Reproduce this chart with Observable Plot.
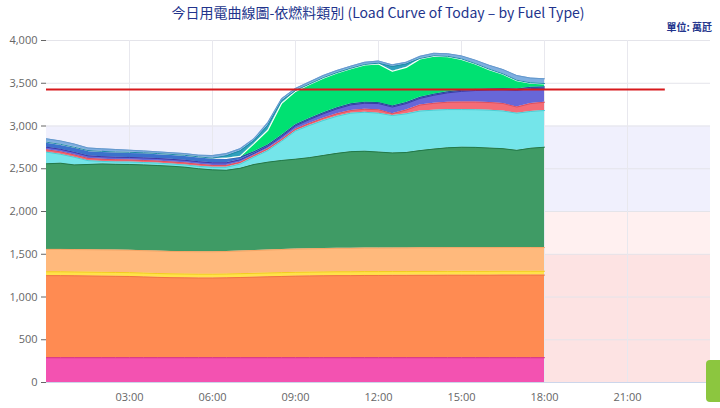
<!DOCTYPE html>
<html>
<head>
<meta charset="utf-8">
<script src="https://cdn.jsdelivr.net/npm/d3@7"></script>
<script src="https://cdn.jsdelivr.net/npm/@observablehq/plot@0.6"></script>
<style>
  html, body { margin: 0; padding: 0; background: #fff; }
  #wrap { position: relative; width: 720px; height: 408px; overflow: hidden; font-family: "Noto Sans CJK TC", "Noto Sans", sans-serif; }
  #title { position: absolute; left: 46px; width: 664px; top: 2px; text-align: center; font-size: 14px; color: #22348c; white-space: nowrap; }
  #unit { position: absolute; right: 8px; top: 19px; font-size: 10px; font-weight: bold; color: #22348c; }
  #chart { position: absolute; left: 0; top: 24px; }
  #btn { position: absolute; left: 706px; top: 360px; width: 22px; height: 42px; background: #8cc63f; border-radius: 4px; }
</style>
</head>
<body>
<div id="wrap">
  <div id="chart"></div>
  <div id="title">今日用電曲線圖-依燃料類別 (Load Curve of Today – by Fuel Type)</div>
  <div id="unit">單位: 萬瓩</div>
  <div id="btn"></div>
</div>
<script>
// ---- data (萬瓩), every 30 minutes from 00:00 to 18:00 ----
const times = ["00:00","00:30","01:00","01:30","02:00","02:30","03:00","03:30","04:00","04:30",
  "05:00","05:30","06:00","06:30","07:00","07:30","08:00","08:30","09:00","09:30",
  "10:00","10:30","11:00","11:30","12:00","12:30","13:00","13:30","14:00","14:30",
  "15:00","15:30","16:00","16:30","17:00","17:30","18:00"];

const nuclear = [290,290,290,290,290,290,290,290,290,290,290,290,290,290,290,290,290,290,290,290,290,290,290,290,290,290,290,290,290,290,290,290,290,290,290,290,290];
const coal = [960,960,958,956,954,952,950,945,940,936,934,932,932,934,938,942,946,950,954,956,958,960,960,962,962,963,963,964,964,965,965,965,965,966,966,966,966];
const cogen = [45,45,45,45,45,45,45,45,45,45,45,45,45,45,45,45,45,45,45,45,45,45,45,45,45,45,45,45,45,45,45,45,45,45,45,45,45];
const ippCoal = [262,262,262,262,262,262,262,262,262,262,262,262,262,263,264,266,268,270,271,272,273,274,274,275,275,275,276,276,276,277,277,277,277,277,277,277,277];
const lng = [1001,1008,990,997,1005,1003,1003,1003,1001,997,988,971,958,950,968,1007,1028,1042,1052,1067,1089,1111,1131,1133,1123,1112,1116,1137,1155,1168,1175,1173,1165,1157,1137,1162,1174];
const ippLng = [136,105,90,45,30,28,28,28,28,26,26,28,30,35,50,86,136,226,330,376,409,434,450,456,455,437,452,463,455,447,440,440,443,440,435,430,429];
const oil = [28,28,27,26,25,25,24,24,24,24,24,24,22,22,20,20,20,20,20,24,27,29,31,35,40,22,45,70,80,86,88,90,90,88,72,92,97];
const hydro = [30,30,30,30,30,30,30,30,30,30,30,30,30,30,30,25,30,35,40,45,51,58,66,70,72,78,75,78,95,110,125,135,145,160,195,175,164];
const wind = [59,58,60,62,62,62,60,60,58,58,58,57,55,50,30,18,15,14,13,12,12,12,12,12,12,12,12,12,12,12,13,13,14,14,15,15,15];
const solar = [0,0,0,0,0,0,0,0,0,0,0,0,0,3,10,95,172,373,390,398,406,407,411,437,451,406,411,450,445,410,362,297,226,168,98,48,35];
const storage = [0,0,0,0,0,0,0,0,0,0,0,0,0,30,65,35,60,30,10,5,5,5,5,5,10,55,40,5,5,5,5,5,5,5,5,5,5];
const other = [39,40,38,30,30,28,25,22,20,20,20,20,30,25,25,22,30,25,25,25,25,25,25,25,25,20,20,25,28,30,35,40,45,50,55,55,55];

const seriesNames = ["核能","燃煤","汽電共生","民營電廠-燃煤","燃氣","民營電廠-燃氣","燃油","水力","風力","太陽能","儲能","其它"];
const seriesValues = [nuclear, coal, cogen, ippCoal, lng, ippLng, oil, hydro, wind, solar, storage, other];
const fillColors = ["#f352b1","#ff8b52","#ffe24a","#ffb97c","#3f9b65","#74e5ea","#f46c76","#6767d8","#3b72cc","#00e172","#2fa0bd","#7eaee0"];
const lineColors = ["#d42e80","#ee7440","#f2cc20","#f5a566","#22794a","#4ccdd4","#dc5060","#3b3aa6","#234f92","#ffffff","#1f8aa6","#6498cc"];

const yTicks = [0,500,1000,1500,2000,2500,3000,3500,4000];
const xTicks = [3,6,9,12,15,18,21];
const bands = [
  {lo: 0, hi: 1500, color: "#fde3e3"},
  {lo: 1500, hi: 2000, color: "#fff0f0"},
  {lo: 2000, hi: 3000, color: "#f0f0fd"}
];
const peakLine = [{value: 3427, from: "00:00", to: "22:22"}];

// ---- build stacked table ----
const toHour = s => { const [h, m] = s.split(":").map(Number); return h + m / 60; };
const hours = times.map(toHour);
const cum = hours.map(() => 0);
const layers = seriesValues.map((vals, k) => {
  const rows = vals.map((v, i) => {
    const y1 = cum[i];
    const y2 = y1 + v;
    cum[i] = y2;
    return {t: hours[i], y1, y2};
  });
  return {name: seriesNames[k], rows, fill: fillColors[k], line: lineColors[k]};
});

const marks = [];
bands.forEach(b => marks.push(Plot.rectY([b], {x1: 0, x2: 24, y1: "lo", y2: "hi", fill: b.color})));
marks.push(Plot.ruleY(yTicks.slice(1), {stroke: "#e4e4ea", strokeWidth: 1}));
marks.push(Plot.ruleX(xTicks, {stroke: "#e8e8ee", strokeWidth: 1}));
layers.forEach(L => {
  marks.push(Plot.areaY(L.rows, {x: "t", y1: "y1", y2: "y2", fill: L.fill, curve: "linear"}));
});
layers.forEach(L => {
  marks.push(Plot.line(L.rows, {x: "t", y: "y2", stroke: L.line, strokeWidth: L.name === "太陽能" ? 1.2 : 1, curve: "linear"}));
});
marks.push(Plot.ruleY([0], {stroke: "#ccd6eb"}));
marks.push(Plot.ruleY(peakLine, {y: "value", x1: d => toHour(d.from), x2: d => toHour(d.to), stroke: "#d7191c", strokeWidth: 2}));

const chart = Plot.plot({
  width: 720,
  height: 384,
  marginTop: 16,
  marginBottom: 26,
  marginLeft: 46,
  marginRight: 10,
  style: {fontFamily: "'Open Sans', 'Noto Sans', sans-serif", fontSize: "11px", color: "#666", background: "transparent", overflow: "visible"},
  x: {domain: [0, 24], ticks: xTicks, tickFormat: h => String(h).padStart(2, "0") + ":00", tickSize: 0, tickPadding: 11, label: null},
  y: {domain: [0, 4000], ticks: yTicks, tickFormat: d3.format(","), tickSize: 5, tickPadding: 4, label: null},
  marks
});
document.getElementById("chart").appendChild(chart);
</script>
</body>
</html>
